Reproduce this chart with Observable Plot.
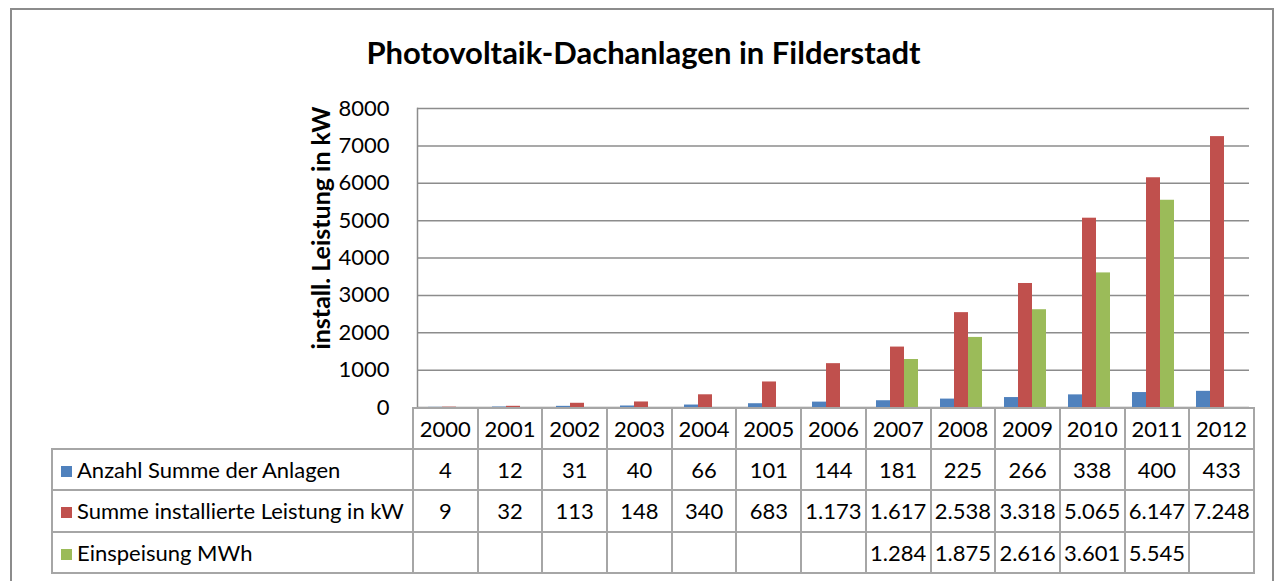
<!DOCTYPE html>
<html><head><meta charset="utf-8">
<script src="https://cdn.jsdelivr.net/npm/d3@7"></script>
<script src="https://cdn.jsdelivr.net/npm/@observablehq/plot@0.6"></script>
<style>
body{margin:0;background:#fff;font-family:Lato,"Open Sans",sans-serif;color:#000;}
#frame{position:absolute;left:10px;top:8px;width:1264px;height:590px;border:2px solid #8c8c8c;box-sizing:border-box;}
#title{position:absolute;left:0;width:1287px;top:33px;text-align:center;font-weight:bold;font-size:31px;}
#chart{position:absolute;left:0;top:90px;}
#chart svg{font-family:Lato,sans-serif;}
#chart [aria-label="y-axis tick label"] text{font-size:22px;}
#chart [aria-label="y-axis label"]{translate:0 -30px;}
#chart [aria-label="y-axis label"] text{font-size:25px;font-weight:bold;}
#tbl{position:absolute;left:51px;top:407px;border-collapse:collapse;font-size:22px;table-layout:fixed;}
#tbl td{border:2px solid #a6a6a6;height:39.2px;padding:0;text-align:center;white-space:nowrap;}
#tbl td.lab{text-align:left;padding-left:8px;}
#tbl tr.head td.blank{border:none;border-right:2px solid #a6a6a6;}
.sw{display:inline-block;width:11px;height:11px;margin-right:5px;vertical-align:1px;}
</style></head>
<body>
<div id="frame"></div>
<div id="title">Photovoltaik-Dachanlagen in Filderstadt</div>
<div id="chart"></div>
<table id="tbl"></table>
<script>
const years = ["2000","2001","2002","2003","2004","2005","2006","2007","2008","2009","2010","2011","2012"];
const anzahl = [4,12,31,40,66,101,144,181,225,266,338,400,433];
const leistung = [9,32,113,148,340,683,1173,1617,2538,3318,5065,6147,7248];
const einspeisung = [null,null,null,null,null,null,null,1284,1875,2616,3601,5545,null];
const seriesNames = ["Anzahl Summe der Anlagen","Summe installierte Leistung in kW","Einspeisung MWh"];
const seriesColors = ["#4F81BD","#C0504D","#9BBB59"];
const yTicks = [0,1000,2000,3000,4000,5000,6000,7000,8000];

const seriesValues = [anzahl, leistung, einspeisung];
const data = years.flatMap((y,i)=>seriesNames.map((s,k)=>({year:y, series:s, value:seriesValues[k][i]}))).filter(d=>d.value!=null);

const chart = Plot.plot({
  width:1279, height:329,
  marginLeft:412, marginRight:26, marginTop:18, marginBottom:12,
  fx:{domain:years, padding:0, axis:null},
  x:{domain:seriesNames, paddingInner:0, paddingOuter:0.73, axis:null},
  y:{domain:[0,8000]},
  color:{domain:seriesNames, range:seriesColors},
  marks:[
    Plot.ruleY(yTicks,{stroke:"#8c8c8c", strokeWidth:1.5, strokeOpacity:1}),
    Plot.frame({anchor:"left", facetAnchor:"left", stroke:"#8c8c8c", strokeWidth:1.5}),
    Plot.barY(data,{fx:"year", x:"series", y:"value", fill:"series"}),
    Plot.axisY({ticks:yTicks, tickSize:0, tickPadding:28, tickFormat:d3.format("d"), label:null}),
    Plot.axisY({ticks:[], tickSize:0, label:"install. Leistung in kW", labelAnchor:"center", labelArrow:"none", labelOffset:105})
  ]
});
document.getElementById("chart").appendChild(chart);

// data table
const fmt = v => v==null ? "" : (v>=1000 ? d3.format(",")(v).replace(/,/g,".") : String(v));
const tbl = document.getElementById("tbl");
let html = '<colgroup><col style="width:361px">' + years.map(()=>'<col style="width:64.7px">').join("") + '</colgroup>';
html += '<tr class="head"><td class="blank"></td>' + years.map(y=>`<td>${y}</td>`).join("") + '</tr>';
seriesNames.forEach((s,k)=>{
  html += `<tr><td class="lab"><span class="sw" style="background:${seriesColors[k]}"></span>${s}</td>` +
    seriesValues[k].map(v=>`<td>${fmt(v)}</td>`).join("") + '</tr>';
});
tbl.innerHTML = html;
</script>
</body></html>
